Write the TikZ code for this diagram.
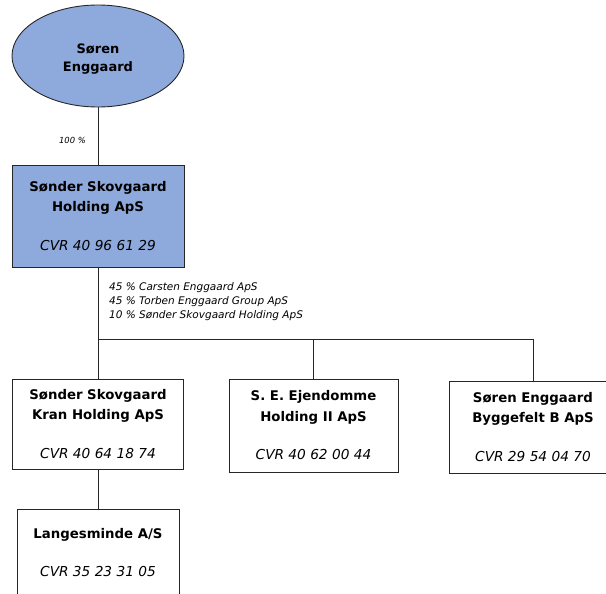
\documentclass[tikz,border=0pt]{standalone}
\usepackage{fontspec}
\setmainfont{DejaVu Sans}
\usetikzlibrary{shapes.geometric}
\definecolor{boxblue}{HTML}{8EA9DB}
\definecolor{edge}{HTML}{262626}
\tikzset{
  ent/.style={draw=edge, line width=0.9pt, rectangle, align=center, inner sep=0pt,
    font=\fontsize{13.3}{20.5}\selectfont\bfseries},
  person/.style={draw=edge, line width=0.9pt, ellipse, fill=boxblue, inner sep=0pt,
    minimum width=172pt, minimum height=102pt, align=center,
    font=\fontsize{13}{18.5}\selectfont\bfseries},
  conn/.style={draw=edge, line width=0.8pt},
  pct/.style={font=\fontsize{10.5}{14}\selectfont\itshape, inner sep=0pt, align=left},
}
\newcommand{\cvr}[1]{{\fontsize{13.7}{20.5}\selectfont\mdseries\itshape #1}}
\begin{document}
\begin{tikzpicture}[x=1pt,y=-1pt]
\useasboundingbox (0,0) rectangle (606,594);
\clip (0,0) rectangle (606,594);
\node[person] (se) at (98,56) {\rule{0pt}{16pt}Søren\\Enggaard};
\node[ent, fill=boxblue, minimum width=172pt, minimum height=102pt] (sh) at (98,216)
  {Sønder Skovgaard\\Holding ApS\\[18pt]\cvr{CVR 40 96 61 29}};
\node[ent, minimum width=171pt, minimum height=90pt] (b1) at (98,424)
  {Sønder Skovgaard\\Kran Holding ApS\\[18pt]\cvr{CVR 40 64 18 74}};
\node[ent, minimum width=169pt, minimum height=93pt] (b2) at (313.5,425.5)
  {S. E. Ejendomme\\Holding II ApS\\[18pt]\cvr{CVR 40 62 00 44}};
\node[ent, minimum width=168pt, minimum height=92pt] (b3) at (533,427)
  {Søren Enggaard\\Byggefelt B ApS\\[18pt]\cvr{CVR 29 54 04 70}};
\node[ent, minimum width=162pt, minimum height=110pt, anchor=north] (b4) at (98,509)
  {\rule{0pt}{12pt}\\[-6pt]Langesminde A/S\\[18pt]\cvr{CVR 35 23 31 05}\\[20pt]};
\coordinate (bar) at (98,339);
\draw[conn] (se.south) -- (sh.north);
\draw[conn] (sh.south) -- (bar) -- (b3.north |- bar) -- (b3.north);
\draw[conn] (bar) -- (b1.north);
\draw[conn] (b2.north |- bar) -- (b2.north);
\draw[conn] (b1.south) -- (b4.north);
\node[pct, font=\fontsize{8.4}{10}\selectfont\itshape, anchor=base east] (p100) at (86,143.5) {100 \%};
\node[pct, anchor=north west] (own) at (109,282)
  {45 \% Carsten Enggaard ApS\\45 \% Torben Enggaard Group ApS\\10 \% Sønder Skovgaard Holding ApS};
\end{tikzpicture}
\end{document}
